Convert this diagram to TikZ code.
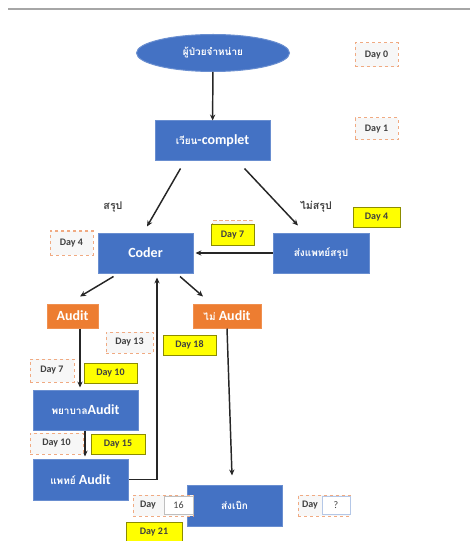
\documentclass[tikz,border=0pt]{standalone}
\usepackage{fontspec}
\setmainfont{Carlito}
\newfontfamily\thai[Script=Thai]{Loma}
\usetikzlibrary{shapes.geometric,arrows.meta,calc}

\definecolor{boxblue}{RGB}{68,114,196}
\definecolor{boxorange}{RGB}{237,125,49}
\definecolor{dashorange}{RGB}{240,170,130}
\definecolor{dayyellow}{RGB}{255,255,0}
\definecolor{textgray}{RGB}{64,64,64}

\tikzset{every picture/.style={line width=0.75pt}}
\tikzset{
    bluebox/.style={draw=boxblue!80!white, fill=boxblue, text=white, font=\bfseries\fontsize{10.5}{12}\selectfont, inner sep=0pt},
    orangebox/.style={draw=boxorange!85!white, fill=boxorange, text=white, font=\bfseries\fontsize{10.5}{12}\selectfont, inner sep=0pt, minimum height=18pt},
    daydash/.style={draw=dashorange, dashed, dash pattern=on 2.5pt off 2pt, fill=black!3, text=textgray, font=\bfseries\fontsize{7.5}{8}\selectfont, inner sep=0pt},
    dayyel/.style={draw=black!45!dayyellow, fill=dayyellow, text=textgray, font=\bfseries\fontsize{7.5}{8}\selectfont, inner sep=0pt, minimum height=15pt},
    numbox/.style={draw=black!25, fill=white, text=textgray, font=\fontsize{7.5}{8}\selectfont, inner sep=0pt, minimum height=13.5pt},
    flow/.style={draw=black!85, line width=1.1pt, -{Stealth[length=4.5pt,width=4pt]}},
    thailabel/.style={text=textgray, font=\thai\bfseries\fontsize{8}{9}\selectfont, inner sep=0pt},
    thaiin/.style={font=\thai\bfseries\fontsize{7.5}{9}\selectfont}
}

\begin{document}
\begin{tikzpicture}[x=0.75pt,y=0.75pt,yscale=-1,xscale=1]
    \useasboundingbox (0,0) rectangle (470,541);

%Straight Lines [top rule]
    \draw [color=black!35, line width=1.2pt] (8,9) -- (470,9) ;

%Shape: Ellipse
    \node [bluebox, ellipse, minimum width=114.75pt, minimum height=27.75pt, thaiin] (dis) at (213,53) {ผู้ป่วยจำหน่าย};
%Shape: Rectangle
    \node [bluebox, minimum width=86.25pt, minimum height=30pt] (comp) at (212.5,141) {{\thai\fontsize{7.5}{9}\selectfont เวียน}-complet};
    \node [bluebox, minimum width=71.25pt, minimum height=30pt] (coder) at (145.5,253) {Coder};
    \node [bluebox, minimum width=72pt, minimum height=30pt, thaiin] (senddoc) at (321,253) {ส่งแพทย์สรุป};
    \node [orangebox, minimum width=38.25pt] (audit) at (72.5,316) {Audit};
    \node [orangebox, minimum width=51pt] (noaudit) at (227,316) {{\thai\fontsize{7.5}{9}\selectfont ไม่} Audit};
    \node [bluebox, minimum width=78.75pt, minimum height=30pt] (nurse) at (85.5,410) {{\thai\fontsize{7.5}{9}\selectfont พยาบาล}Audit};
    \node [bluebox, minimum width=71.25pt, minimum height=30.75pt] (doc) at (80.5,479.5) {{\thai\fontsize{7.5}{9}\selectfont แพทย์} Audit};
    \node [bluebox, minimum width=71.25pt, minimum height=30.75pt, thaiin] (claim) at (234.5,505.5) {ส่งเบิก};

% Text Node
    \node [thailabel] (yes) at (113,207) {สรุป};
% Text Node
    \node [thailabel] (no) at (316,207) {ไม่สรุป};

%Straight Lines
    \draw [flow] (dis) -- (comp) ;
    \draw [flow] ($(comp.south)+(-32,7)$) -- ($(coder.north)+(1.5,-6)$) ;
    \draw [flow] ($(comp.south)+(32,7)$) -- ($(senddoc.north)+(-23,-7)$) ;
    \draw [flow, shorten >=1.5pt] (senddoc.west) -- (coder.east) ;
    \draw [flow] ($(coder.south)+(-32,3)$) -- ($(audit.north)+(7.5,-7)$) ;
    \draw [flow] ($(coder.south)+(34.5,3)$) -- ($(noaudit.north)+(-24,-7)$) ;
    \draw [flow] ($(audit.south)+(7.5,0)$) -- ($(nurse.north)+(-5.5,-2)$) ;
    \draw [flow] ($(nurse.south)+(-0.5,0)$) -- ($(doc.north)+(4.5,-2)$) ;
    \draw [flow] (doc.east) -| ($(coder.south)+(11.5,4)$) ;
    \draw [flow] (noaudit.south) -- ($(claim.north)+(-2.5,-9)$) ;

%Shape: Day boxes
    \node [daydash, minimum width=32.25pt, minimum height=18pt] (d0) at (376.5,55) {Day 0};
    \node [daydash, minimum width=32.25pt, minimum height=16.5pt] (d1) at (376.5,129) {Day 1};
    \node [daydash, minimum width=32.25pt, minimum height=18pt] (d4a) at (71.5,243) {Day 4};
    \node [dayyel, minimum width=35.25pt] (d4b) at (376.5,217.5) {Day 4};
    \node [daydash, minimum width=30pt, minimum height=15pt] (d7a) at (232.5,231) {};
    \node [dayyel, minimum width=32.25pt] (d7b) at (232.5,235) {Day 7};
    \node [daydash, minimum width=35.25pt, minimum height=15.75pt] (d13) at (129.5,342.5) {Day 13};
    \node [dayyel, minimum width=39.75pt] (d18) at (189.5,345) {Day 18};
    \node [daydash, minimum width=33pt, minimum height=17.25pt] (d7c) at (52,370.5) {Day 7};
    \node [dayyel, minimum width=39.75pt] (d10a) at (110.5,373) {Day 10};
    \node [daydash, minimum width=39.75pt, minimum height=15.75pt] (d10b) at (56.5,443.5) {Day 10};
    \node [dayyel, minimum width=40.5pt] (d15) at (118,444) {Day 15};
    \node [dayyel, minimum width=42pt] (d21) at (154,532) {Day 21};

    \node [daydash, minimum width=45pt, minimum height=15.75pt] (d16) at (163,505.5) {};
    \node [text=textgray, font=\bfseries\fontsize{7.5}{8}\selectfont, inner sep=0pt] (d16t) at (148,505.5) {Day};
    \node [numbox, minimum width=21.75pt] (d16n) at (178.5,505.5) {16};

    \node [daydash, minimum width=39pt, minimum height=15.75pt] (dq) at (324,505.5) {};
    \node [text=textgray, font=\bfseries\fontsize{7.5}{8}\selectfont, inner sep=0pt] (dqt) at (310,505.5) {Day};
    \node [numbox, draw=boxblue!40, minimum width=21pt] (dqn) at (336,505.5) {?};

\end{tikzpicture}
\end{document}
